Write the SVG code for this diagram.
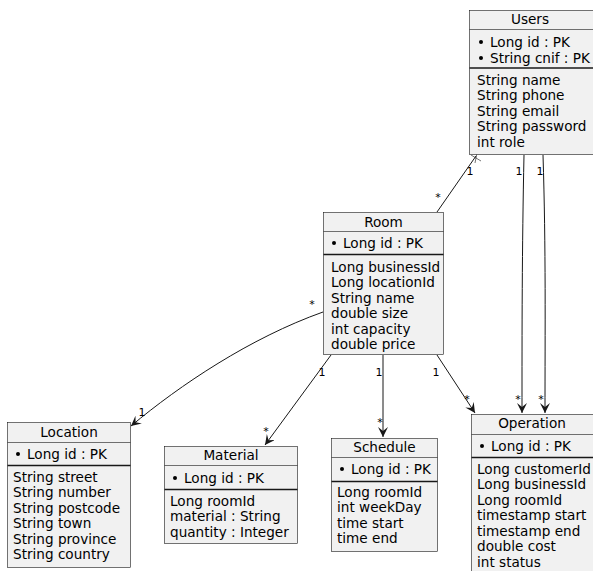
<svg xmlns="http://www.w3.org/2000/svg" width="593" height="571" viewBox="0 0 593 571">
<style>
.box{fill:#F1F1F1;stroke:#181818;stroke-width:0.6}
.sep{stroke:#181818;stroke-width:0.6;fill:none}
.dbl{stroke:#181818;stroke-width:1.4;fill:none}
text{font-family:"DejaVu Sans","Liberation Sans",sans-serif;font-size:13.6px;fill:#000}
.t{text-anchor:middle}
.lbl{font-size:11px;text-anchor:middle;fill:#000}
.c{stroke:#181818;stroke-width:1;fill:none}
</style>
<defs>
<marker id="ah" viewBox="0 0 10 10" refX="10" refY="5" markerWidth="10" markerHeight="10" markerUnits="userSpaceOnUse" orient="auto">
<polygon points="10,5 0,0 4,5 0,10" fill="#181818"/>
</marker>
</defs>
<rect width="593" height="571" fill="#fff"/>

<g id="connectors">
<line class="c" x1="476" y1="156" x2="437" y2="212"/>
<path class="sep" d="M471,155 L481,161 M477,153 L475,163"/>
<text class="lbl" x="470" y="175">1</text>
<text class="lbl" x="438" y="201">*</text>
<path class="c" d="M524,155 C522,250 522,330 522,413" marker-end="url(#ah)"/>
<path class="c" d="M543,155 C546,250 545,330 545,413" marker-end="url(#ah)"/>
<text class="lbl" x="519" y="175">1</text>
<text class="lbl" x="540" y="175">1</text>
<text class="lbl" x="518" y="403">*</text>
<text class="lbl" x="541" y="403">*</text>
<path class="c" d="M323,312 C250,338 180,385 131,426" marker-end="url(#ah)"/>
<text class="lbl" x="312" y="308">*</text>
<text class="lbl" x="142" y="416">1</text>
<line class="c" x1="331" y1="355" x2="265" y2="445" marker-end="url(#ah)"/>
<text class="lbl" x="322" y="376">1</text>
<text class="lbl" x="266" y="435">*</text>
<line class="c" x1="383" y1="355" x2="383" y2="437" marker-end="url(#ah)"/>
<text class="lbl" x="379" y="376">1</text>
<text class="lbl" x="380" y="426">*</text>
<line class="c" x1="437" y1="355" x2="475" y2="413" marker-end="url(#ah)"/>
<text class="lbl" x="436" y="376">1</text>
<text class="lbl" x="467" y="403">*</text>
</g>

<g id="Users">
<rect class="box" x="469.5" y="10.5" width="130" height="144"/>
<path class="sep" d="M469.5,29.5 H600"/>
<path class="dbl" d="M469.5,68 H600"/>
<text class="t" x="530" y="24">Users</text>
<circle cx="481" cy="42" r="2"/><text x="490" y="46.5">Long id : PK</text>
<circle cx="481" cy="58" r="2"/><text x="490" y="62.5">String cnif : PK</text>
<text x="477" y="84.5">String name</text>
<text x="477" y="100">String phone</text>
<text x="477" y="115.5">String email</text>
<text x="477" y="131">String password</text>
<text x="477" y="146.5">int role</text>
</g>

<g id="Room">
<rect class="box" x="323.5" y="212.5" width="120" height="142"/>
<path class="sep" d="M323.5,231.5 H443.5"/>
<path class="dbl" d="M323.5,254.5 H443.5"/>
<text class="t" x="383.5" y="226.5">Room</text>
<circle cx="334" cy="243" r="2"/><text x="343" y="247.5">Long id : PK</text>
<text x="331" y="271.5">Long businessId</text>
<text x="331" y="287">Long locationId</text>
<text x="331" y="302.5">String name</text>
<text x="331" y="318">double size</text>
<text x="331" y="333.5">int capacity</text>
<text x="331" y="349">double price</text>
</g>

<g id="Location">
<rect class="box" x="7.5" y="422.5" width="123" height="145"/>
<path class="sep" d="M7.5,442.5 H130.5"/>
<path class="dbl" d="M7.5,465.5 H130.5"/>
<text class="t" x="69" y="437">Location</text>
<circle cx="18" cy="454" r="2"/><text x="27" y="458.5">Long id : PK</text>
<text x="13" y="481.5">String street</text>
<text x="13" y="497">String number</text>
<text x="13" y="512.5">String postcode</text>
<text x="13" y="528">String town</text>
<text x="13" y="543.5">String province</text>
<text x="13" y="559">String country</text>
</g>

<g id="Material">
<rect class="box" x="164.5" y="446.5" width="133" height="97"/>
<path class="sep" d="M164.5,465.5 H297.5"/>
<path class="dbl" d="M164.5,489.5 H297.5"/>
<text class="t" x="231" y="460">Material</text>
<circle cx="175" cy="478" r="2"/><text x="184" y="482.5">Long id : PK</text>
<text x="170" y="505.5">Long roomId</text>
<text x="170" y="521">material : String</text>
<text x="170" y="536.5">quantity : Integer</text>
</g>

<g id="Schedule">
<rect class="box" x="331.5" y="438.5" width="106" height="113"/>
<path class="sep" d="M331.5,457.5 H437.5"/>
<path class="dbl" d="M331.5,481.5 H437.5"/>
<text class="t" x="384.5" y="452">Schedule</text>
<circle cx="342" cy="469" r="2"/><text x="351" y="473.5">Long id : PK</text>
<text x="337" y="496.5">Long roomId</text>
<text x="337" y="512">int weekDay</text>
<text x="337" y="527.5">time start</text>
<text x="337" y="543">time end</text>
</g>

<g id="Operation">
<rect class="box" x="471.5" y="414.5" width="130" height="160"/>
<path class="sep" d="M471.5,434.5 H600"/>
<path class="dbl" d="M471.5,457.5 H600"/>
<text class="t" x="532" y="428">Operation</text>
<circle cx="482" cy="446" r="2"/><text x="491" y="450.5">Long id : PK</text>
<text x="477" y="473.5">Long customerId</text>
<text x="477" y="489">Long businessId</text>
<text x="477" y="504.5">Long roomId</text>
<text x="477" y="520">timestamp start</text>
<text x="477" y="535.5">timestamp end</text>
<text x="477" y="551">double cost</text>
<text x="477" y="566.5">int status</text>
</g>
</svg>
